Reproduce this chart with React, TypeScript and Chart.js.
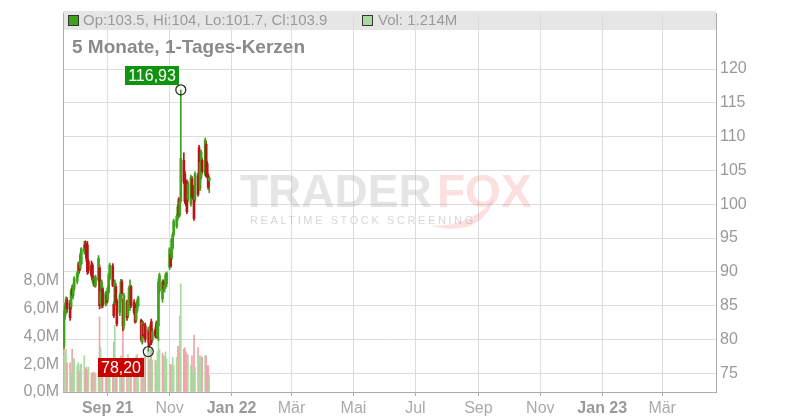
import React, { useEffect, useRef } from "react";
import { Chart, registerables } from "chart.js";

Chart.register(...registerables);

// ---------- data ----------
const firstTradingDay = "2021-07-20";
const lastTradingDay = "2021-12-10";
const axisStart = "2021-07-19";
const axisEnd = "2023-04-23";

const opens = [
  79.0, 83.5, 84.2, 85.8, 85.4, 84.8, 87.6, 86.5, 87.5,
  88.6, 89.7, 91.0, 90.5, 91.2, 93.0, 94.0, 93.8, 94.0, 91.5, 91.0, 91.0, 88.2, 88.8, 88.0, 88.8, 90.6, 85.3, 85.0, 87.5, 85.2, 86.5,
  85.8, 87.0, 89.0, 90.9, 85.2, 85.2, 87.8, 85.7, 84.0, 86.0, 88.5, 85.7, 82.0, 85.5, 83.5, 85.0, 86.5, 87.8, 85.5, 85.0, 82.8, 84.2,
  85.0, 82.8, 79.6, 82.2, 80.8, 82.0, 79.5, 81.2, 79.5, 82.6, 80.0, 81.5, 82.4, 80.5, 82.0, 87.2, 86.0, 88.5, 87.5, 87.8, 88.2,
  90.6, 92.6, 92.0, 93.5, 95.5, 96.7, 97.9, 100.7, 98.5, 100.5, 106.5, 104.5, 102.0, 103.3, 100.7, 100.0, 103.8, 102.5, 101.4, 100.7, 104.2, 108.4,
  102.3, 104.0, 106.5, 104.5, 108.9, 106.0, 104.2, 103.5,
];
const highs = [
  84.3, 85.4, 86.3, 86.2, 85.8, 87.4, 88.0, 88.2, 89.3,
  90.0, 91.4, 91.5, 92.8, 93.6, 94.5, 94.6, 94.2, 94.5, 91.8, 91.6, 91.3, 89.4, 89.2, 89.5, 92.4, 91.0, 87.3, 88.8, 87.8, 87.1, 87.0,
  87.8, 89.8, 91.3, 91.2, 85.5, 88.8, 88.2, 86.0, 86.8, 88.9, 88.8, 86.0, 86.8, 85.8, 85.8, 87.8, 88.8, 88.0, 85.9, 85.3, 84.8, 85.9,
  86.4, 83.0, 82.8, 82.6, 82.3, 82.4, 81.8, 81.5, 82.3, 83.0, 81.6, 81.8, 82.7, 82.8, 89.0, 89.8, 88.8, 88.8, 88.3, 89.8, 90.0,
  93.6, 93.0, 95.0, 95.8, 97.8, 98.5, 99.9, 101.0, 100.8, 116.93, 107.6, 104.9, 102.4, 103.6, 103.3, 104.3, 104.1, 102.8, 101.7, 104.8, 104.6, 108.7,
  106.5, 108.0, 106.8, 109.8, 109.3, 106.3, 104.5, 104.0,
];
const lows = [
  78.6, 83.0, 83.8, 84.0, 82.8, 84.5, 86.2, 86.0, 87.2,
  88.2, 89.3, 89.8, 90.2, 91.0, 92.6, 93.0, 91.5, 89.6, 89.8, 89.2, 88.5, 87.9, 87.8, 87.7, 88.5, 84.5, 84.8, 84.6, 84.7, 84.9, 85.2,
  85.5, 86.8, 88.8, 87.8, 83.2, 85.0, 85.2, 82.0, 83.5, 85.7, 86.5, 81.3, 81.5, 82.8, 83.2, 84.7, 84.3, 84.7, 83.7, 82.4, 82.5, 84.0,
  84.8, 79.7, 79.3, 80.2, 80.4, 79.6, 78.2, 78.8, 79.2, 79.2, 79.8, 80.2, 80.2, 80.1, 79.8, 86.8, 85.5, 87.2, 87.0, 87.5, 87.8,
  90.3, 90.6, 91.8, 93.3, 95.2, 96.4, 97.6, 98.0, 98.2, 100.3, 103.0, 100.1, 99.8, 98.6, 100.4, 99.7, 100.7, 100.9, 97.6, 100.4, 101.2, 104.0,
  102.0, 103.7, 104.5, 104.2, 104.0, 103.9, 102.2, 101.7,
];
const closes = [
  84.0, 85.0, 86.0, 84.5, 83.2, 87.2, 86.5, 87.8, 89.0,
  89.8, 91.2, 90.2, 92.5, 93.4, 94.0, 93.5, 92.0, 90.0, 90.2, 89.5, 88.8, 89.0, 88.2, 89.2, 92.0, 85.0, 87.0, 88.5, 85.0, 86.8, 85.5,
  87.5, 89.5, 91.0, 88.0, 83.5, 88.5, 85.5, 82.3, 86.5, 88.5, 86.8, 82.0, 86.5, 83.2, 85.5, 87.5, 88.0, 85.0, 84.0, 82.6, 84.5, 85.6,
  86.2, 80.0, 82.5, 80.5, 82.0, 80.0, 81.5, 79.0, 82.0, 79.5, 81.2, 80.5, 80.5, 82.5, 88.5, 89.5, 88.5, 87.5, 88.0, 89.5, 89.8,
  93.4, 90.8, 94.8, 95.5, 97.5, 98.2, 99.6, 98.4, 100.5, 106.8, 103.3, 100.4, 100.1, 98.9, 103.0, 104.0, 101.0, 101.2, 97.9, 104.5, 101.5, 104.3,
  106.2, 107.7, 104.8, 109.5, 104.3, 104.2, 102.5, 103.9,
];
const volumesM = [
  6.4, 2.8, 3.1, 2.1, 2.1, 1.4, 3.1, 2.4, 2.4,
  1.9, 2.1, 1.5, 2.0, 2.0, 2.6, 1.7, 1.8, 1.6, 1.8, 1.3, 1.4, 1.4, 1.4, 1.3, 1.6, 5.4, 3.2, 2.1, 2.1, 1.3, 1.8,
  1.2, 1.2, 1.6, 1.6, 3.6, 4.8, 1.6, 1.6, 2.0, 2.6, 2.0, 4.4, 2.0, 2.0, 2.7, 2.4, 2.4, 1.6, 2.2, 2.3, 2.6, 2.7,
  1.9, 2.5, 2.3, 2.3, 2.7, 2.6, 2.9, 2.3, 3.1, 3.1, 2.3, 2.3, 2.2, 2.9, 3.9, 3.1, 2.8, 2.6, 2.6, 2.9, 2.4,
  2.0, 2.0, 1.9, 2.5, 1.9, 2.5, 3.3, 3.3, 5.5, 7.8, 3.1, 3.2, 2.9, 2.7, 2.7, 1.9, 2.6, 1.4, 4.1, 1.8, 3.2, 2.6,
  2.5, 2.6, 2.5, 2.6, 2.6, 1.9, 1.9, 1.214,
];

const tickDates = [
  "2021-09-01", "2021-11-01", "2022-01-01", "2022-03-01", "2022-05-01",
  "2022-07-01", "2022-09-01", "2022-11-01", "2023-01-01", "2023-03-01",
];
const tickLabels = ["Sep 21", "Nov", "Jan 22", "Mär", "Mai", "Jul", "Sep", "Nov", "Jan 23", "Mär"];
const boldTickLabels = ["Sep 21", "Jan 22", "Jan 23"];
const priceTicks = [75, 80, 85, 90, 95, 100, 105, 110, 115, 120];
const volumeTicksM = [0, 2, 4, 6, 8];
const priceRange = [72.21, 128.21];
const volumeRangeM = [0, 27.29];

const titleText = "5 Monate, 1-Tages-Kerzen";

// ---------- helpers ----------
const FONT = "'Liberation Sans', Arial, Helvetica, sans-serif";
const GREEN = "#3ea21c";
const RED = "#b81414";
const VOL_GREEN = "#a9dba1";
const VOL_RED = "#f2a3ab";

const dayNum = (s: string) => {
  const [y, m, d] = s.split("-").map(Number);
  return Date.UTC(y, m - 1, d) / 86400000;
};

function tradingDays(from: string, to: string) {
  const out: number[] = [];
  for (let d = dayNum(from); d <= dayNum(to); d++) {
    const wd = new Date(d * 86400000).getUTCDay();
    if (wd !== 0 && wd !== 6) out.push(d);
  }
  return out;
}

const fmtComma = (v: number) => v.toFixed(2).replace(".", ",");

const decorPlugin = {
  id: "decor",
  beforeDraw(chart: any) {
    const { ctx, chartArea } = chart;
    ctx.save();
    ctx.fillStyle = "#e6e6e6";
    ctx.fillRect(chartArea.left, 11, chartArea.right - chartArea.left, 19);
    ctx.restore();
  },
  beforeDatasetsDraw(chart: any) {
    const { ctx } = chart;
    ctx.save();
    ctx.textBaseline = "alphabetic";
    ctx.textAlign = "left";
    ctx.font = `bold 46px ${FONT}`;
    ctx.fillStyle = "rgba(170,170,170,0.3)";
    ctx.fillText("TRADER", 240, 207);
    ctx.fillStyle = "rgba(240,110,110,0.22)";
    ctx.fillText("FOX", 437, 207);
    // fox tail
    ctx.beginPath();
    ctx.moveTo(432, 226);
    ctx.quadraticCurveTo(472, 226, 494, 199);
    ctx.quadraticCurveTo(480, 238, 432, 226);
    ctx.fill();
    ctx.font = `11px ${FONT}`;
    (ctx as any).letterSpacing = "2.6px";
    ctx.fillStyle = "rgba(160,160,160,0.42)";
    ctx.fillText("REALTIME STOCK SCREENING", 250, 224);
    ctx.restore();
  },
  afterDraw(chart: any) {
    const { ctx, chartArea } = chart;
    const n = closes.length - 1;
    ctx.save();
    // header legend
    ctx.textBaseline = "middle";
    ctx.textAlign = "left";
    ctx.font = `15px ${FONT}`;
    ctx.fillStyle = GREEN;
    ctx.fillRect(chartArea.left + 5.5, 15.5, 10, 10);
    ctx.strokeStyle = "#333";
    ctx.lineWidth = 1;
    ctx.strokeRect(chartArea.left + 5.5, 15.5, 10, 10);
    ctx.fillStyle = "#9a9a9a";
    ctx.fillText(`Op:${opens[n]}, Hi:${highs[n]}, Lo:${lows[n]}, Cl:${closes[n]}`, chartArea.left + 20, 21);
    ctx.fillStyle = VOL_GREEN;
    ctx.fillRect(362.5, 15.5, 10, 10);
    ctx.strokeRect(362.5, 15.5, 10, 10);
    ctx.fillStyle = "#9a9a9a";
    ctx.fillText(`Vol: ${volumesM[n]}M`, 378, 21);
    // title
    ctx.font = `bold 19px ${FONT}`;
    ctx.fillStyle = "#8a8a8a";
    ctx.textBaseline = "alphabetic";
    ctx.fillText(titleText, chartArea.left + 9, 53);
    ctx.restore();
  },
  afterDatasetsDraw(chart: any) {
    const { ctx, scales } = chart;
    const days = tradingDays(firstTradingDay, lastTradingDay);
    let hi = 0, lo = 0;
    highs.forEach((v, i) => { if (v > highs[hi]) hi = i; });
    lows.forEach((v, i) => { if (v < lows[lo]) lo = i; });
    const drawMark = (i: number, val: number, color: string, above: boolean) => {
      const px = scales.x.getPixelForValue(days[i]);
      const py = scales.y.getPixelForValue(val);
      ctx.save();
      ctx.beginPath();
      ctx.arc(px, py, 5, 0, Math.PI * 2);
      ctx.strokeStyle = "#222";
      ctx.lineWidth = 1.2;
      ctx.stroke();
      ctx.font = `16px ${FONT}`;
      const txt = fmtComma(val);
      const w = ctx.measureText(txt).width + 6;
      const h = 19;
      const right = px - (above ? 2 : 4);
      const top = above ? py - 5 - h : py + 6;
      ctx.fillStyle = color;
      ctx.fillRect(Math.round(right - w), Math.round(top), Math.round(w), h);
      ctx.fillStyle = "#fff";
      ctx.textAlign = "center";
      ctx.textBaseline = "middle";
      ctx.fillText(txt, Math.round(right - w) + Math.round(w) / 2, Math.round(top) + h / 2 + 1);
      ctx.restore();
    };
    drawMark(hi, highs[hi], "#109410", true);
    drawMark(lo, lows[lo], "#c80000", false);
  },
};

export default function App() {
  const ref = useRef<HTMLCanvasElement | null>(null);

  useEffect(() => {
    if (!ref.current) return;
    const days = tradingDays(firstTradingDay, lastTradingDay);
    const up = closes.map((c, i) => c >= opens[i]);
    const volUp = closes.map((c, i) => i > 0 && c >= closes[i - 1]);

    const chart = new Chart(ref.current, {
      type: "bar",
      data: {
        datasets: [
          {
            label: "body",
            data: days.map((d, i) => ({ x: d, y: [opens[i], closes[i]] })) as any,
            backgroundColor: up.map((u) => (u ? GREEN : RED)),
            barThickness: 2,
            grouped: false,
            borderWidth: 0,
            yAxisID: "y",
            order: 1,
          } as any,
          {
            label: "wick",
            data: days.map((d, i) => ({ x: d, y: [lows[i], highs[i]] })) as any,
            backgroundColor: up.map((u) => (u ? GREEN : RED)),
            barThickness: 1,
            grouped: false,
            borderWidth: 0,
            yAxisID: "y",
            order: 2,
          } as any,
          {
            label: "volume",
            data: days.map((d, i) => ({ x: d, y: volumesM[i] * 1e6 })) as any,
            backgroundColor: volUp.map((u) => (u ? VOL_GREEN : VOL_RED)),
            barThickness: 1,
            grouped: false,
            borderWidth: 0,
            yAxisID: "yv",
            order: 3,
          } as any,
        ],
      },
      options: {
        animation: false,
        responsive: false,
        devicePixelRatio: 1,
        layout: { padding: { top: 10, left: 0, right: 0, bottom: 0 } },
        plugins: { legend: { display: false }, tooltip: { enabled: false } },
        scales: {
          x: {
            type: "linear",
            min: dayNum(axisStart),
            max: dayNum(axisEnd),
            offset: false,
            grid: { color: "#dddddd", offset: false, drawTicks: true, tickLength: 4, tickColor: "#aaaaaa" },
            border: { color: "#aaaaaa" },
            ticks: {
              autoSkip: false,
              maxRotation: 0,
              padding: 3,
              color: (c: any) => (boldTickLabels.includes(tickLabels[c.index]) ? "#999999" : "#aaaaaa"),
              font: (c: any) => ({
                family: FONT,
                size: 16,
                weight: boldTickLabels.includes(tickLabels[c.index]) ? "bold" : "normal",
              }),
              callback: (_v: any, i: number) => tickLabels[i],
            },
            afterBuildTicks: (s: any) => {
              s.ticks = tickDates.map((t) => ({ value: dayNum(t) }));
            },
            afterFit: (s: any) => {
              s.height = 28;
            },
          } as any,
          y: {
            position: "right",
            min: priceRange[0],
            max: priceRange[1],
            grid: { color: "#dddddd", drawTicks: false },
            border: { color: "#aaaaaa" },
            ticks: { color: "#999999", font: { family: FONT, size: 16 }, padding: 4 },
            afterBuildTicks: (s: any) => {
              s.ticks = priceTicks.map((v) => ({ value: v }));
            },
            afterFit: (s: any) => {
              s.width = 84;
            },
          } as any,
          yv: {
            position: "left",
            min: volumeRangeM[0] * 1e6,
            max: volumeRangeM[1] * 1e6,
            grid: { drawOnChartArea: false, drawTicks: false },
            border: { color: "#aaaaaa" },
            ticks: {
              color: "#999999",
              font: { family: FONT, size: 16 },
              padding: 4,
              callback: (v: any) => (Number(v) / 1e6).toFixed(1).replace(".", ",") + "M",
            },
            afterBuildTicks: (s: any) => {
              s.ticks = volumeTicksM.map((v) => ({ value: v * 1e6 }));
            },
            afterFit: (s: any) => {
              s.width = 63;
            },
          } as any,
        },
      },
      plugins: [decorPlugin as any],
    });
    return () => chart.destroy();
  }, []);

  return (
    <div style={{ position: "absolute", left: 0, top: 0, width: 800, height: 420, background: "#fff" }}>
      <canvas ref={ref} width={800} height={420} style={{ display: "block" }} />
    </div>
  );
}
